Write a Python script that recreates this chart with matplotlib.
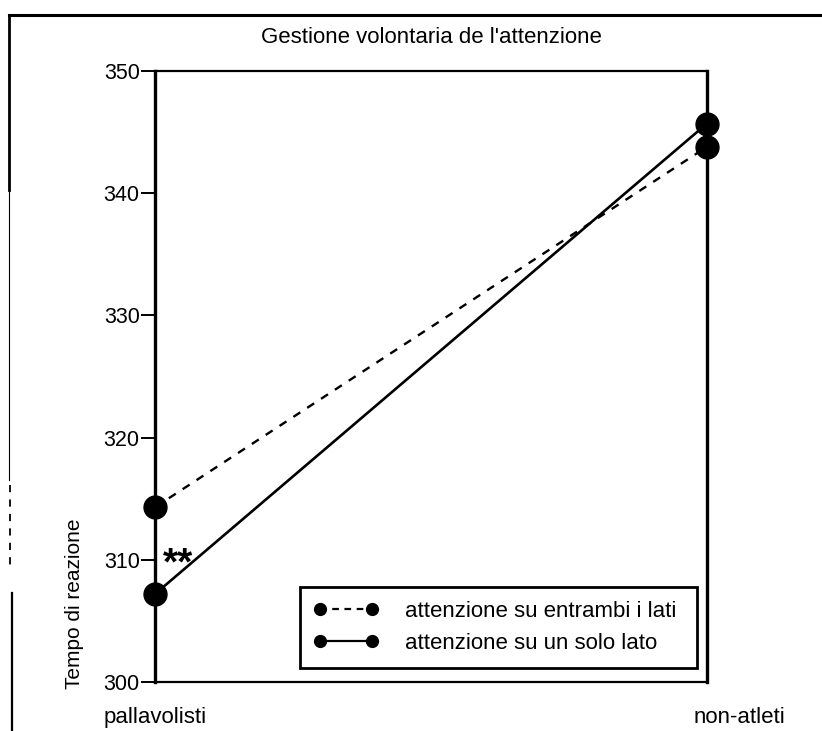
import matplotlib
matplotlib.use("Agg")
import matplotlib.pyplot as plt
from matplotlib.lines import Line2D
import matplotlib.transforms as mtransforms

plt.rcParams['font.family'] = ['Liberation Sans', 'DejaVu Sans']

# ---- data ----
groups = ["pallavolisti", "non-atleti"]
entrambi = [314.3, 343.8]     # attenzione su entrambi i lati
solo = [307.2, 345.7]         # attenzione su un solo lato
yticks = [300, 310, 320, 330, 340, 350]
title = "Gestione volontaria de l'attenzione"
ylabel = "Tempo di reazione"
legend_labels = ["attenzione su entrambi i lati", "attenzione su un solo lato"]
signif = "**"

W, H = 822, 731
fig = plt.figure(figsize=(W / 100, H / 100), dpi=100)
ax = fig.add_axes([155 / W, 1 - 682 / H, (707 - 155) / W, (682 - 71) / H])

x = [0, 1]
ax.plot(x, entrambi, color='black', lw=1.7, ls=(0, (3.5, 3.5)), marker='o',
        ms=16.5, mfc='black', mec='black', clip_on=False, zorder=3)
ax.plot(x, solo, color='black', lw=1.9, ls='-', marker='o',
        ms=16.5, mfc='black', mec='black', clip_on=False, zorder=3)

ax.set_xlim(0, 1)
ax.set_ylim(300, 350)
ax.set_yticks(yticks)
ax.set_yticklabels([str(v) for v in yticks], fontsize=15.5)
ax.tick_params(axis='y', length=10, width=1.4, pad=1, direction='out')
ax.set_xticks(x)
ax.set_xticklabels(groups, fontsize=16)
ax.tick_params(axis='x', length=0, pad=18)
# the right category label sits to the right of the axis in the reference
offsets = [0, 32 / 100]
for lab, dx in zip(ax.get_xticklabels(), offsets):
    lab.set_transform(lab.get_transform() +
                      mtransforms.ScaledTranslation(dx, 0, fig.dpi_scale_trans))

for s in ax.spines.values():
    s.set_linewidth(1.6)
ax.spines['left'].set_linewidth(2.4)
ax.spines['right'].set_linewidth(2.4)

ax.set_title(title, fontsize=16, pad=20)
ax.set_ylabel(ylabel, fontsize=15)
ax.yaxis.set_label_coords(-0.128, 0.128)

ax.text(0.014, 308.8, signif, fontsize=28, fontweight='bold',
        ha='left', va='baseline')

handles = [
    Line2D([], [], color='black', lw=1.6, ls=(0, (3, 2.5)), marker='o', ms=8.5),
    Line2D([], [], color='black', lw=1.6, ls='-', marker='o', ms=8.5),
]
leg = ax.legend(handles, legend_labels, loc='lower left',
                bbox_to_anchor=((300 - 155) / (707 - 155), (682 - 668) / (682 - 71),
                                (697 - 300) / (707 - 155), (668 - 584) / (682 - 71)),
                mode='expand', fontsize=16, frameon=True, fancybox=False,
                edgecolor='black', handlelength=2.9, handletextpad=1.2,
                borderpad=0.62, labelspacing=0.5, borderaxespad=0,
                numpoints=2)
leg.get_frame().set_linewidth(2.0)
leg.get_frame().set_alpha(None)
leg.get_frame().set_facecolor('white')

# scanned page frame
def fl(xs, ys, **kw):
    fig.add_artist(Line2D([v / W for v in xs], [1 - v / H for v in ys],
                          color='black', **kw))

fl([9, 822], [15, 15], lw=2.2)
fl([9, 9], [15, 190], lw=2.0)
fl([9, 9], [190, 480], lw=0.8)
fl([10, 10], [485, 565], lw=1.3, ls=(0, (4, 4)))
fl([12, 12], [593, 731], lw=1.6)

fig.savefig("out.png", dpi=100)
